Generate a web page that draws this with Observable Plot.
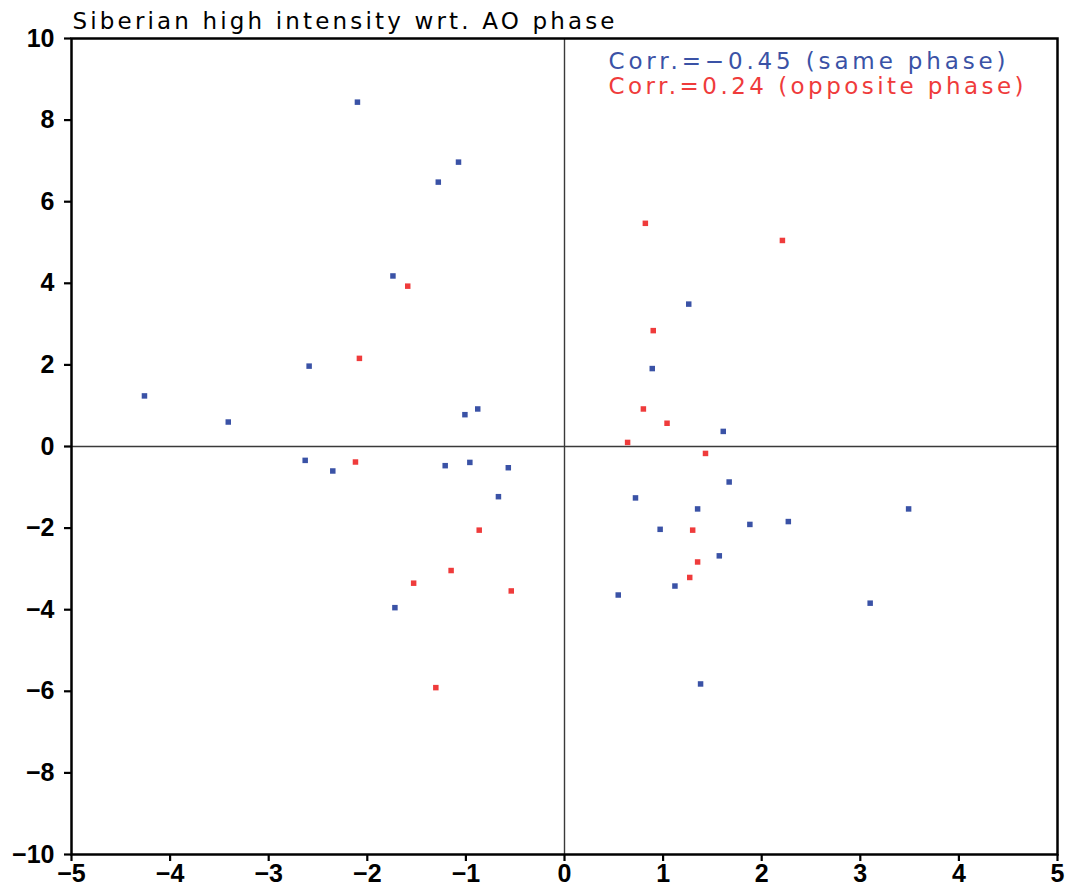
<!DOCTYPE html>
<html>
<head>
<meta charset="utf-8">
<script src="https://cdn.jsdelivr.net/npm/d3@7"></script>
<script src="https://cdn.jsdelivr.net/npm/@observablehq/plot@0.6"></script>
<style>
  html, body { margin: 0; padding: 0; background: white; }
</style>
</head>
<body>
<div id="chart"></div>
<script>
// ---- data ----
const titleText = "Siberian high intensity wrt. AO phase";
const legendSame = "Corr.=\u22120.45 (same phase)";
const legendOpp = "Corr.=0.24 (opposite phase)";
const xTicks = [-5, -4, -3, -2, -1, 0, 1, 2, 3, 4, 5];
const yTicks = [-10, -8, -6, -4, -2, 0, 2, 4, 6, 8, 10];

const sameX = [-2.10, -1.075, -1.28, -1.74, -2.59, -4.26, -3.41, -1.01, -0.88,
  -2.63, -2.35, -1.21, -0.96, -0.57, -0.67, -1.72,
  1.26, 0.89, 1.61, 1.67, 0.72, 1.35, 3.49, 1.88, 2.27, 0.97, 1.57, 1.12, 0.545, 3.10, 1.38];
const sameY = [8.44, 6.97, 6.48, 4.18, 1.97, 1.24, 0.60, 0.78, 0.92,
  -0.34, -0.60, -0.47, -0.39, -0.52, -1.23, -3.95,
  3.49, 1.91, 0.37, -0.87, -1.26, -1.53, -1.53, -1.91, -1.84, -2.03, -2.68, -3.42, -3.64, -3.84, -5.82];

const oppX = [-1.59, -2.08, -2.12, -0.865, -1.15, -1.53, -0.54, -1.305,
  0.82, 2.21, 0.90, 0.80, 1.04, 0.64, 1.43, 1.30, 1.35, 1.27];
const oppY = [3.93, 2.16, -0.38, -2.05, -3.04, -3.35, -3.54, -5.91,
  5.47, 5.05, 2.84, 0.92, 0.57, 0.10, -0.17, -2.05, -2.83, -3.21];

const BLUE = "#3a52a6";
const RED = "#ef3b3b";

const points = [
  ...sameX.map((x, i) => ({x, y: sameY[i], phase: "same"})),
  ...oppX.map((x, i) => ({x, y: oppY[i], phase: "opposite"}))
];

const tickFont = "'Liberation Sans', 'DejaVu Sans', sans-serif";
const textFont = "'DejaVu Sans', 'Liberation Sans', sans-serif";

const chart = Plot.plot({
  width: 1069,
  height: 890,
  marginLeft: 71,
  marginRight: 12,
  marginTop: 38,
  marginBottom: 36,
  style: {fontFamily: tickFont, fontSize: "25px", background: "white", color: "black", overflow: "visible"},
  x: {domain: [-5, 5]},
  y: {domain: [-10, 10]},
  color: {domain: ["same", "opposite"], range: [BLUE, RED]},
  marks: [
    Plot.ruleX([0], {stroke: "#3a3a3a", strokeWidth: 1.4}),
    Plot.ruleY([0], {stroke: "#3a3a3a", strokeWidth: 1.4}),
    Plot.dot(points, {x: "x", y: "y", fill: "phase", r: 3.1, symbol: "square"}),
    Plot.frame({stroke: "black", strokeWidth: 2.5}),
    Plot.axisX(xTicks, {tickSize: 7, tickPadding: 3, label: null, strokeWidth: 2.2, fontWeight: "bold", fontSize: 25}),
    Plot.axisY(yTicks, {tickSize: 7, tickPadding: 10, label: null, strokeWidth: 2.2, fontWeight: "bold", fontSize: 25}),
    Plot.text([titleText], {frameAnchor: "top-left", dx: 1, dy: -10, textAnchor: "start", lineAnchor: "bottom", fontSize: 23, fontFamily: textFont, fill: "black", className: "t-title"}),
    Plot.text([legendSame], {frameAnchor: "top-left", dx: 537, dy: 30, textAnchor: "start", lineAnchor: "bottom", fontSize: 23, fontFamily: textFont, fill: BLUE, className: "t-same"}),
    Plot.text([legendOpp], {frameAnchor: "top-left", dx: 537, dy: 55, textAnchor: "start", lineAnchor: "bottom", fontSize: 23, fontFamily: textFont, fill: RED, className: "t-opp"})
  ]
});

document.getElementById("chart").appendChild(chart);

const svg = d3.select(chart);
svg.selectAll(".t-title text").attr("textLength", 542).attr("lengthAdjust", "spacing");
svg.selectAll(".t-same text").attr("textLength", 397).attr("lengthAdjust", "spacing");
svg.selectAll(".t-opp text").attr("textLength", 415).attr("lengthAdjust", "spacing");
</script>
</body>
</html>
